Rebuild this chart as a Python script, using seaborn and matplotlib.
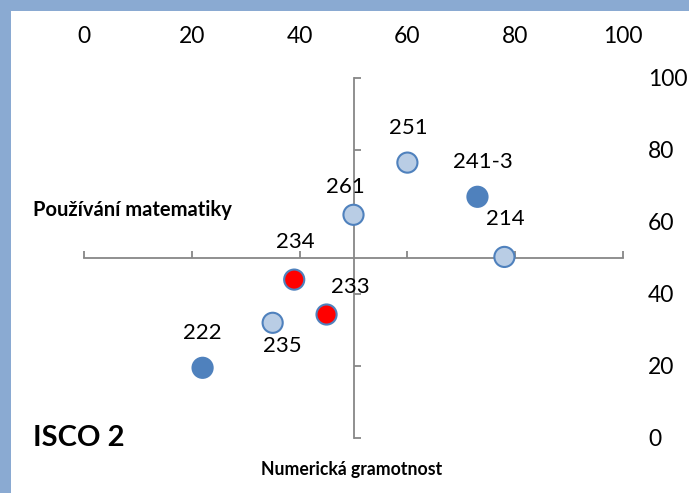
import matplotlib
matplotlib.use("Agg")
import matplotlib.pyplot as plt
import seaborn as sns
import pandas as pd
from matplotlib.patches import Rectangle

# Data
kody = ["251", "241-3", "261", "214", "234", "233", "235", "222"]
numericka = [60, 73, 50, 78, 39, 45, 35, 22]
matematika = [76.5, 67, 62, 50.3, 44, 34.3, 32, 19.5]
skupina = ["svetla", "tmava", "svetla", "svetla", "cervena", "cervena", "svetla", "tmava"]
ticks = [0, 20, 40, 60, 80, 100]

df = pd.DataFrame({"kod": kody, "x": numericka, "y": matematika, "skupina": skupina})

sns.set_theme(style="white")
plt.rcParams["font.family"] = ["Lato", "DejaVu Sans"]
plt.rcParams["text.color"] = "black"
plt.rcParams["xtick.labelcolor"] = "black"
plt.rcParams["ytick.labelcolor"] = "black"

fig = plt.figure(figsize=(6.89, 4.93), dpi=100)
fig.patch.set_facecolor("#8AAAD2")
# white panel inside the blue frame
fig.patches.append(Rectangle((11 / 689, 0), 1, 1 - 11 / 493, transform=fig.transFigure,
                             facecolor="white", edgecolor="none", zorder=-10))

ax = fig.add_axes([84 / 689, 55 / 493, 539 / 689, 360 / 493])
ax.set_facecolor("none")

paleta = {"svetla": "#B9CDE5", "tmava": "#4F81BD", "cervena": "#FF0000"}
sns.scatterplot(data=df, x="x", y="y", hue="skupina", palette=paleta, s=210,
                edgecolor="#4F81BD", linewidth=1.5, legend=False, ax=ax, zorder=3)

# label offsets in points
offsety = {"251": (1, 25), "241-3": (4, 25), "261": (-6, 20), "214": (1, 27),
           "234": (1, 27), "233": (17, 20), "235": (7, -17), "222": (0, 25)}
for _, r in df.iterrows():
    ax.annotate(r["kod"], (r["x"], r["y"]), xytext=offsety[r["kod"]], textcoords="offset points",
                ha="center", va="center", fontsize=16, color="black")

ax.set_xlim(0, 100)
ax.set_ylim(0, 100)
ax.set_xticks(ticks)
ax.set_yticks(ticks)
ax.set_xlabel("")
ax.set_ylabel("")

# cross axes through the middle
for s in ["top", "right"]:
    ax.spines[s].set_visible(False)
ax.spines["left"].set_position(("data", 50))
ax.spines["bottom"].set_position(("data", 50))
for s in ["left", "bottom"]:
    ax.spines[s].set_color("#878787")
    ax.spines[s].set_linewidth(1.3)

ax.tick_params(axis="x", direction="in", bottom=True, top=False, labelbottom=False, labeltop=True,
               length=5, width=1.3, color="#878787", labelsize=16.5, pad=22)
ax.tick_params(axis="y", direction="in", left=True, right=False, labelleft=False, labelright=True,
               length=5, width=1.3, color="#878787", labelsize=16.5, pad=18)
for lab in ax.get_yticklabels():
    lab.set_horizontalalignment("left")

fig.text(33 / 689, 1 - 210 / 493, "Používání matematiky", fontsize=14.5, fontweight="bold",
         ha="left", va="center")
fig.text(352 / 689, 1 - 470 / 493, "Numerická gramotnost", fontsize=12.7, fontweight="bold",
         ha="center", va="center")
fig.text(33 / 689, 1 - 438 / 493, "ISCO 2", fontsize=21, fontweight="bold",
         ha="left", va="center")

fig.savefig("out.png", dpi=100, facecolor=fig.get_facecolor())
